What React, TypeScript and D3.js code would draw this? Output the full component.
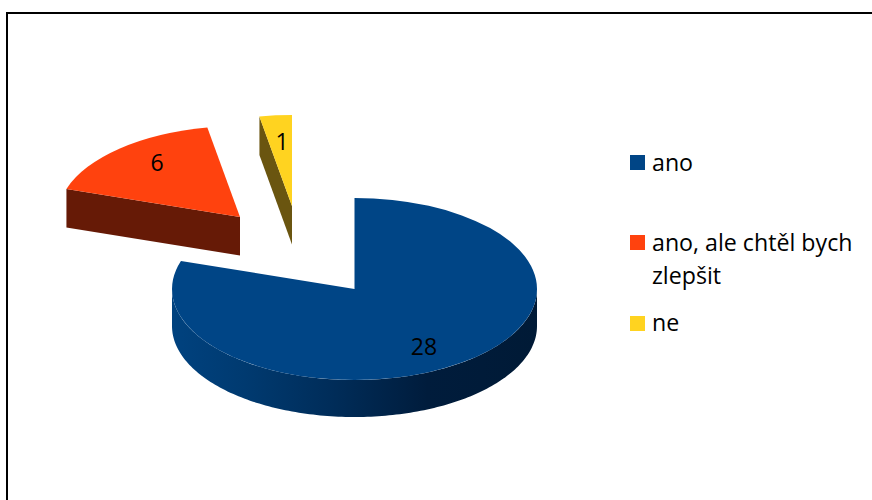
import React from "react";
import * as d3 from "d3";

const categories = ["ano", "ano, ale chtěl bych zlepšit", "ne"];
const values = [28, 6, 1];
const legendLines = [["ano"], ["ano, ale chtěl bych", "zlepšit"], ["ne"]];
const colors = ["#004586", "#ff420e", "#ffd320"];
const sideColors = ["#003a70", "#661a06", "#6a5510"];

const W = 872, H = 500;
const cx = 354.5, cy = 289, rx = 182.5, ry = 91, depth = 37, flatDepth = 38.5;
const explode: [number, number][] = [[0, 0], [-114.5, -72], [-62.5, -83]];
const font = "'Open Sans', sans-serif";
const labelPos: [number, number][] = [[424, 355], [157, 171], [282, 150]];
const swatchY = [155, 235, 316];
const legendBaselines = [[171], [251, 284], [331]];

const gradStops: [number, string][] = [
  [0, "#00427f"], [0.2, "#003a70"], [0.45, "#002c58"], [0.7, "#001c3c"], [1, "#001a36"],
];

export default function App() {
  const arcs = d3.pie<number>().sort(null).value((d) => d)(values);
  const arcGen = d3.arc<d3.PieArcDatum<number>>().innerRadius(0).outerRadius(1);
  const xy = (a: number): [number, number] => [rx * Math.sin(a), -ry * Math.cos(a)];

  // Blue side wall: the front half of the rim extruded downward
  const rim = [...d3.range(Math.PI / 2, (3 * Math.PI) / 2, 0.02), (3 * Math.PI) / 2].map(xy);
  const line = d3.line();
  const wall0 = [...rim, ...rim.slice().reverse().map(([x, y]) => [x, y + depth] as [number, number])];

  // Flat side walls of exploded slices: start edge running to the apex
  const flatWall = (i: number) => {
    const p = xy(arcs[i].startAngle);
    return [p, [0, 0], [0, flatDepth], [p[0], p[1] + flatDepth]] as [number, number][];
  };

  return (
    <svg width={W} height={H} style={{ position: "absolute", left: 0, top: 0, background: "#fff" }}>
      <defs>
        <linearGradient id="wall" gradientUnits="userSpaceOnUse" x1={-rx} x2={rx} y1={0} y2={0}>
          {gradStops.map(([o, c]) => <stop key={o} offset={o} stopColor={c} />)}
        </linearGradient>
      </defs>
      <rect x={7} y={13} width={W + 20} height={H + 20} fill="#fff" stroke="#000" strokeWidth={2} />

      {arcs.map((a, i) => {
        const [dx, dy] = explode[i];
        return (
          <g key={categories[i]} transform={`translate(${cx + dx},${cy + dy})`}>
            {i === 0
              ? <path d={line(wall0) + "Z"} fill="url(#wall)" />
              : <path d={line(flatWall(i)) + "Z"} fill={sideColors[i]} />}
            <path d={arcGen(a) as string} fill={colors[i]} transform={`scale(${rx},${ry})`} />
          </g>
        );
      })}

      {values.map((v, i) => (
        <text key={i} x={labelPos[i][0]} y={labelPos[i][1]} textAnchor="middle" fontFamily={font} fontSize={23} fill="#000">{v}</text>
      ))}

      {categories.map((c, i) => (
        <g key={c}>
          <rect x={630} y={swatchY[i]} width={15} height={15} fill={colors[i]} />
          {legendLines[i].map((t, j) => (
            <text key={t} x={652} y={legendBaselines[i][j]} fontFamily={font} fontSize={23.2} fill="#000">{t}</text>
          ))}
        </g>
      ))}
    </svg>
  );
}
